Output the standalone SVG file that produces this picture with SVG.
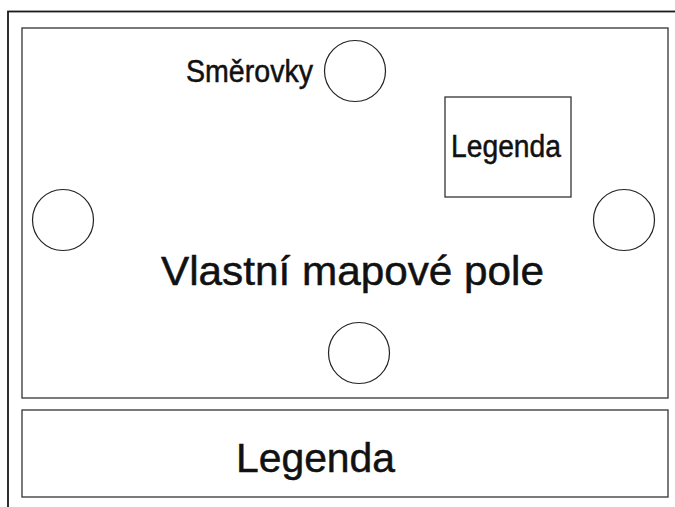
<svg xmlns="http://www.w3.org/2000/svg" width="675" height="507" viewBox="0 0 675 507">
<style>
.frame{fill:none;stroke:#333;stroke-width:1.3}
.outer{fill:none;stroke:#1a1a1a;stroke-width:1.8}
.c{fill:#fff;stroke:#222;stroke-width:1.2}
text{font-family:"Liberation Sans",Arial,sans-serif;fill:#111;stroke:#111;stroke-width:0.5}
</style>
<rect width="675" height="507" fill="#fff"/>
<g id="outer"><rect class="outer" x="8" y="11.5" width="700" height="520"/></g>
<g id="map"><rect class="frame" x="22" y="28" width="646" height="370"/>
<text x="161" y="285" font-size="40" textLength="383" lengthAdjust="spacingAndGlyphs">Vlastní mapové pole</text></g>
<g id="smerovky-top"><circle class="c" cx="355" cy="71" r="30.5"/>
<text x="186" y="82" font-size="31" textLength="127" lengthAdjust="spacingAndGlyphs">Směrovky</text></g>
<g id="smerovka-left"><circle class="c" cx="63" cy="220" r="30.5"/></g>
<g id="smerovka-right"><circle class="c" cx="624" cy="220" r="30.5"/></g>
<g id="smerovka-bottom"><circle class="c" cx="359" cy="353" r="30.5"/></g>
<g id="legenda-small"><rect class="frame" x="445" y="97" width="126" height="100"/>
<text x="451" y="157" font-size="31" textLength="110" lengthAdjust="spacingAndGlyphs">Legenda</text></g>
<g id="legenda-bottom"><rect class="frame" x="22" y="410" width="646" height="87"/>
<text x="236" y="472" font-size="40.5" textLength="159" lengthAdjust="spacingAndGlyphs">Legenda</text></g>
<g id="connectors"/>
</svg>
